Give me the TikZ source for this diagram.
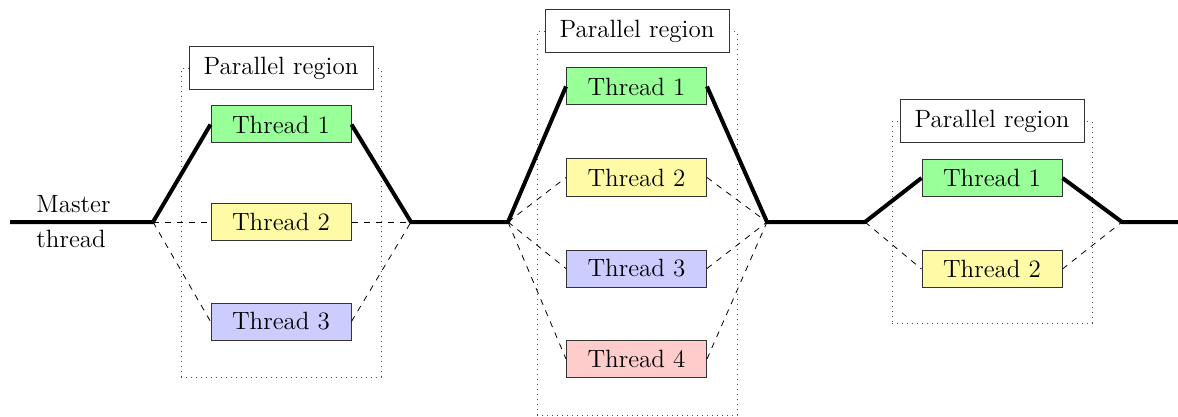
\documentclass[tikz,border=0pt]{standalone}
\usetikzlibrary{calc}
\begin{document}
\begin{tikzpicture}[x=0.5pt,y=-0.5pt,
  font=\fontsize{12.5}{14}\selectfont,
  thread/.style={draw=black!80, line width=0.5pt, minimum width=70pt, minimum height=18.5pt, inner sep=0pt},
  region/.style={draw=black!70, dotted, line width=0.5pt, minimum width=100pt, inner sep=0pt},
  regionlabel/.style={draw=black!80, fill=white, line width=0.5pt, minimum width=92pt, minimum height=21.5pt, inner sep=0pt},
  master/.style={line width=2pt},
  fork/.style={dashed, line width=0.4pt},
  caption/.style={anchor=base west, inner sep=0pt}
]
\useasboundingbox (0,0) rectangle (1178,417);

% master thread segments and fork/join points
\coordinate (start) at (10,222);
\coordinate (f1) at (153,222);
\coordinate (j1) at (411,222);
\coordinate (f2) at (508,222);
\coordinate (j2) at (767,222);
\coordinate (f3) at (865,222);
\coordinate (j3) at (1122,222);
\coordinate (stop) at (1178,222);

\node[caption] (mastertxt) at (36,213) {Master};
\node[caption] (threadtxt) at (36,247) {thread};

% first parallel region
\node[region, minimum height=154pt] (reg1) at (281,223) {};
\node[regionlabel] (lab1) at (reg1.north) {Parallel region};
\node[thread, fill=green!40] (a1) at (281,124.5) {Thread 1};
\node[thread, fill=yellow!35] (a2) at (281,222) {Thread 2};
\node[thread, fill=blue!20] (a3) at (281,321.5) {Thread 3};

% second parallel region
\node[region, minimum height=191.5pt] (reg2) at (637,223.5) {};
\node[regionlabel] (lab2) at (reg2.north) {Parallel region};
\node[thread, fill=green!40] (b1) at (636.5,86.5) {Thread 1};
\node[thread, fill=yellow!35] (b2) at (636.5,177.5) {Thread 2};
\node[thread, fill=blue!20] (b3) at (636.5,268.5) {Thread 3};
\node[thread, fill=red!20] (b4) at (636.5,359) {Thread 4};

% third parallel region
\node[region, minimum height=100.5pt] (reg3) at (992,222.5) {};
\node[regionlabel] (lab3) at (reg3.north) {Parallel region};
\node[thread, fill=green!40] (c1) at (992,178) {Thread 1};
\node[thread, fill=yellow!35] (c2) at (992,269) {Thread 2};

% master thread path
\draw[master] (start) -- (f1) -- (a1.west);
\draw[master] (a1.east) -- (j1) -- (f2) -- (b1.west);
\draw[master] (b1.east) -- (j2) -- (f3) -- (c1.west);
\draw[master] (c1.east) -- (j3) -- (stop);

% worker threads
\draw[fork] (f1) -- (a2.west) (a2.east) -- (j1);
\draw[fork] (f1) -- (a3.west) (a3.east) -- (j1);
\draw[fork] (f2) -- (b2.west) (b2.east) -- (j2);
\draw[fork] (f2) -- (b3.west) (b3.east) -- (j2);
\draw[fork] (f2) -- (b4.west) (b4.east) -- (j2);
\draw[fork] (f3) -- (c2.west) (c2.east) -- (j3);
\end{tikzpicture}
\end{document}
